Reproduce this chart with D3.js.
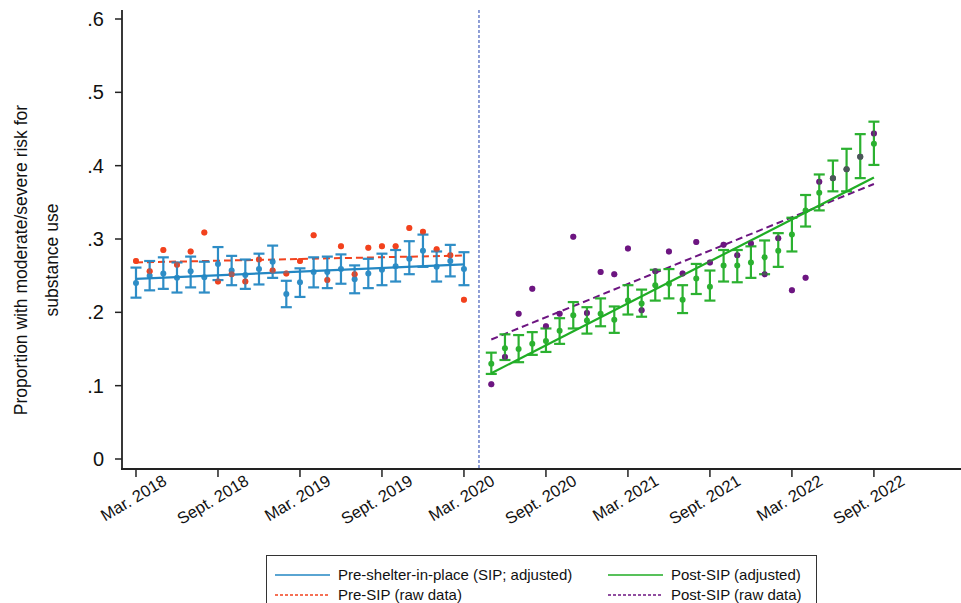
<!DOCTYPE html>
<html>
<head>
<meta charset="utf-8">
<script src="https://cdn.jsdelivr.net/npm/d3@7"></script>
<style>
  body { margin: 0; background: #fff; }
  text { font-family: "Liberation Sans", Arial, sans-serif; }
</style>
</head>
<body>
<div id="chart"></div>
<script>
// months counted from Mar. 2018 (= 0)
const tickMonths = [0, 6, 12, 18, 24, 30, 36, 42, 48, 54];
const tickLabels = ["Mar. 2018", "Sept. 2018", "Mar. 2019", "Sept. 2019", "Mar. 2020",
                    "Sept. 2020", "Mar. 2021", "Sept. 2021", "Mar. 2022", "Sept. 2022"];
const yTicks = [0, 0.1, 0.2, 0.3, 0.4, 0.5, 0.6];
const sipMonth = 25.1;

// pre-SIP, months 0..24
const preEst = [0.240, 0.250, 0.253, 0.247, 0.256, 0.248, 0.266, 0.257, 0.251, 0.259, 0.269, 0.225, 0.241,
                0.255, 0.255, 0.259, 0.245, 0.253, 0.258, 0.263, 0.273, 0.284, 0.262, 0.270, 0.259];
const preLo  = [0.220, 0.230, 0.232, 0.227, 0.234, 0.227, 0.244, 0.237, 0.232, 0.238, 0.247, 0.207, 0.221,
                0.234, 0.233, 0.239, 0.226, 0.233, 0.237, 0.242, 0.252, 0.262, 0.242, 0.249, 0.237];
const preHi  = [0.261, 0.270, 0.275, 0.268, 0.276, 0.269, 0.289, 0.277, 0.272, 0.280, 0.291, 0.243, 0.260,
                0.275, 0.276, 0.279, 0.264, 0.273, 0.280, 0.285, 0.297, 0.306, 0.283, 0.292, 0.282];
const preRaw = [0.270, 0.256, 0.285, 0.265, 0.283, 0.309, 0.242, 0.252, 0.242, 0.272, 0.257, 0.253, 0.270,
                0.305, 0.244, 0.290, 0.252, 0.288, 0.290, 0.290, 0.315, 0.310, 0.286, 0.278, 0.217];
const preFit = [0.2455, 0.2655];
const preRawFit = [0.268, 0.2775];

// post-SIP, months 26..54
const postEst = [0.130, 0.151, 0.150, 0.157, 0.161, 0.175, 0.196, 0.189, 0.198, 0.190, 0.216,
                 0.212, 0.237, 0.239, 0.217, 0.246, 0.235, 0.264, 0.264, 0.268, 0.275, 0.284,
                 0.306, 0.339, 0.363, 0.383, 0.395, 0.412, 0.430];
const postLo  = [0.116, 0.135, 0.132, 0.142, 0.146, 0.157, 0.178, 0.171, 0.181, 0.172, 0.197,
                 0.194, 0.216, 0.219, 0.199, 0.225, 0.216, 0.242, 0.241, 0.247, 0.252, 0.262,
                 0.283, 0.317, 0.339, 0.365, 0.365, 0.383, 0.401];
const postHi  = [0.145, 0.170, 0.169, 0.173, 0.178, 0.192, 0.214, 0.207, 0.219, 0.208, 0.237,
                 0.231, 0.258, 0.259, 0.237, 0.266, 0.257, 0.285, 0.285, 0.290, 0.298, 0.308,
                 0.329, 0.360, 0.388, 0.407, 0.423, 0.443, 0.460];
const postRaw = [0.102, 0.139, 0.198, 0.232, 0.181, 0.198, 0.303, 0.199, 0.255, 0.252, 0.287,
                 0.203, 0.256, 0.283, 0.253, 0.296, 0.268, 0.292, 0.278, 0.294, 0.252, 0.301,
                 0.230, 0.247, 0.378, 0.383, 0.395, 0.412, 0.444];
const postFit = [0.117, 0.384];
const postRawFit = [0.163, 0.375];

const colors = {pre: "#2387c3", preRaw: "#f2421d", post: "#20ad25", postRaw: "#6d1581"};

const W = 961, H = 603;
const svg = d3.select("#chart").append("svg").attr("width", W).attr("height", H);

const x = d3.scaleLinear().domain([-1.024, 60.3]).range([122, 960]);
const y = d3.scaleLinear().domain([0, 0.6]).range([459, 19]);
const yBottom = 469, yTop = 10;

const preMonths = d3.range(0, 25);
const postMonths = d3.range(26, 55);

// axes
svg.append("line").attr("x1", 122).attr("x2", 122).attr("y1", yTop).attr("y2", yBottom)
  .attr("stroke", "#222").attr("stroke-width", 1.8);
svg.append("line").attr("x1", 121).attr("x2", 961).attr("y1", yBottom).attr("y2", yBottom)
  .attr("stroke", "#222").attr("stroke-width", 1.8);

const fmt = v => v === 0 ? "0" : d3.format(".1f")(v).replace(/^0/, "");
yTicks.forEach(v => {
  svg.append("line").attr("x1", 115).attr("x2", 122).attr("y1", y(v)).attr("y2", y(v))
    .attr("stroke", "#222").attr("stroke-width", 1.5);
  svg.append("text").attr("x", 104).attr("y", y(v)).attr("dy", "0.35em")
    .attr("text-anchor", "end").style("font-size", "20px").attr("fill", "#111").text(fmt(v));
});

tickMonths.forEach((m, i) => {
  svg.append("line").attr("x1", x(m)).attr("x2", x(m)).attr("y1", yBottom).attr("y2", yBottom + 8)
    .attr("stroke", "#222").attr("stroke-width", 1.5);
  svg.append("text")
    .attr("transform", `translate(${x(m) + 32},${yBottom + 15}) rotate(-31)`)
    .attr("text-anchor", "end")
    .style("font-size", "16.5px").attr("fill", "#111").text(tickLabels[i]);
});

// y axis title
const yt = svg.append("text").attr("transform", "translate(27,260) rotate(-90)")
  .attr("text-anchor", "middle").style("font-size", "17.5px").attr("fill", "#111");
yt.append("tspan").attr("x", 0).attr("dy", 0).text("Proportion with moderate/severe risk for");
yt.append("tspan").attr("x", 0).attr("dy", "1.75em").text("substance use");

// SIP line
svg.append("line").attr("x1", x(sipMonth)).attr("x2", x(sipMonth)).attr("y1", yTop).attr("y2", yBottom)
  .attr("stroke", "#1f3fae").attr("stroke-width", 1).attr("stroke-dasharray", "3,2");

function drawGroup(months, est, lo, hi, raw, fit, rawFit, col, rawCol) {
  const g = svg.append("g");
  // raw points
  g.selectAll("circle.raw").data(months).enter().append("circle")
    .attr("cx", d => x(d)).attr("cy", (d, i) => y(raw[i])).attr("r", 3)
    .attr("fill", rawCol);
  // raw fit
  g.append("line").attr("x1", x(months[0])).attr("x2", x(months[months.length - 1]))
    .attr("y1", y(rawFit[0])).attr("y2", y(rawFit[1]))
    .attr("stroke", rawCol).attr("stroke-width", 2).attr("stroke-dasharray", "7,4");
  // error bars
  const eb = g.selectAll("g.eb").data(months).enter().append("g").attr("opacity", 0.95);
  eb.append("line").attr("x1", d => x(d)).attr("x2", d => x(d))
    .attr("y1", (d, i) => y(lo[i])).attr("y2", (d, i) => y(hi[i]))
    .attr("stroke", col).attr("stroke-width", 2.2);
  eb.append("line").attr("x1", d => x(d) - 5.5).attr("x2", d => x(d) + 5.5)
    .attr("y1", (d, i) => y(lo[i])).attr("y2", (d, i) => y(lo[i]))
    .attr("stroke", col).attr("stroke-width", 2.2);
  eb.append("line").attr("x1", d => x(d) - 5.5).attr("x2", d => x(d) + 5.5)
    .attr("y1", (d, i) => y(hi[i])).attr("y2", (d, i) => y(hi[i]))
    .attr("stroke", col).attr("stroke-width", 2.2);
  eb.append("circle").attr("cx", d => x(d)).attr("cy", (d, i) => y(est[i])).attr("r", 3)
    .attr("fill", col);
  // fitted line
  g.append("line").attr("x1", x(months[0])).attr("x2", x(months[months.length - 1]))
    .attr("y1", y(fit[0])).attr("y2", y(fit[1]))
    .attr("stroke", col).attr("stroke-width", 2.2);
  // raw points drawn faintly over the bars
  g.selectAll("circle.rawtop").data(months).enter().append("circle")
    .attr("cx", d => x(d)).attr("cy", (d, i) => y(raw[i])).attr("r", 3)
    .attr("fill", rawCol).attr("opacity", 0.55);
}

drawGroup(preMonths, preEst, preLo, preHi, preRaw, preFit, preRawFit, colors.pre, colors.preRaw);
drawGroup(postMonths, postEst, postLo, postHi, postRaw, postFit, postRawFit, colors.post, colors.postRaw);

// legend
const lg = svg.append("g");
lg.append("rect").attr("x", 266.5).attr("y", 555.5).attr("width", 550).attr("height", 60)
  .attr("fill", "#fff").attr("stroke", "#333").attr("stroke-width", 1);
const legendItems = [
  {label: "Pre-shelter-in-place (SIP; adjusted)", col: colors.pre, dash: null, lx: 275, ty: 575},
  {label: "Pre-SIP (raw data)", col: colors.preRaw, dash: "3,2", lx: 275, ty: 595},
  {label: "Post-SIP (adjusted)", col: colors.post, dash: null, lx: 608, ty: 575},
  {label: "Post-SIP (raw data)", col: colors.postRaw, dash: "3,2", lx: 608, ty: 595}
];
legendItems.forEach(it => {
  lg.append("line").attr("x1", it.lx).attr("x2", it.lx + 55).attr("y1", it.ty).attr("y2", it.ty)
    .attr("stroke", it.col).attr("stroke-width", 1.5).attr("stroke-dasharray", it.dash);
  lg.append("text").attr("x", it.lx + 63).attr("y", it.ty).attr("dy", "0.35em")
    .style("font-size", "15px").attr("fill", "#111").text(it.label);
});
</script>
</body>
</html>
